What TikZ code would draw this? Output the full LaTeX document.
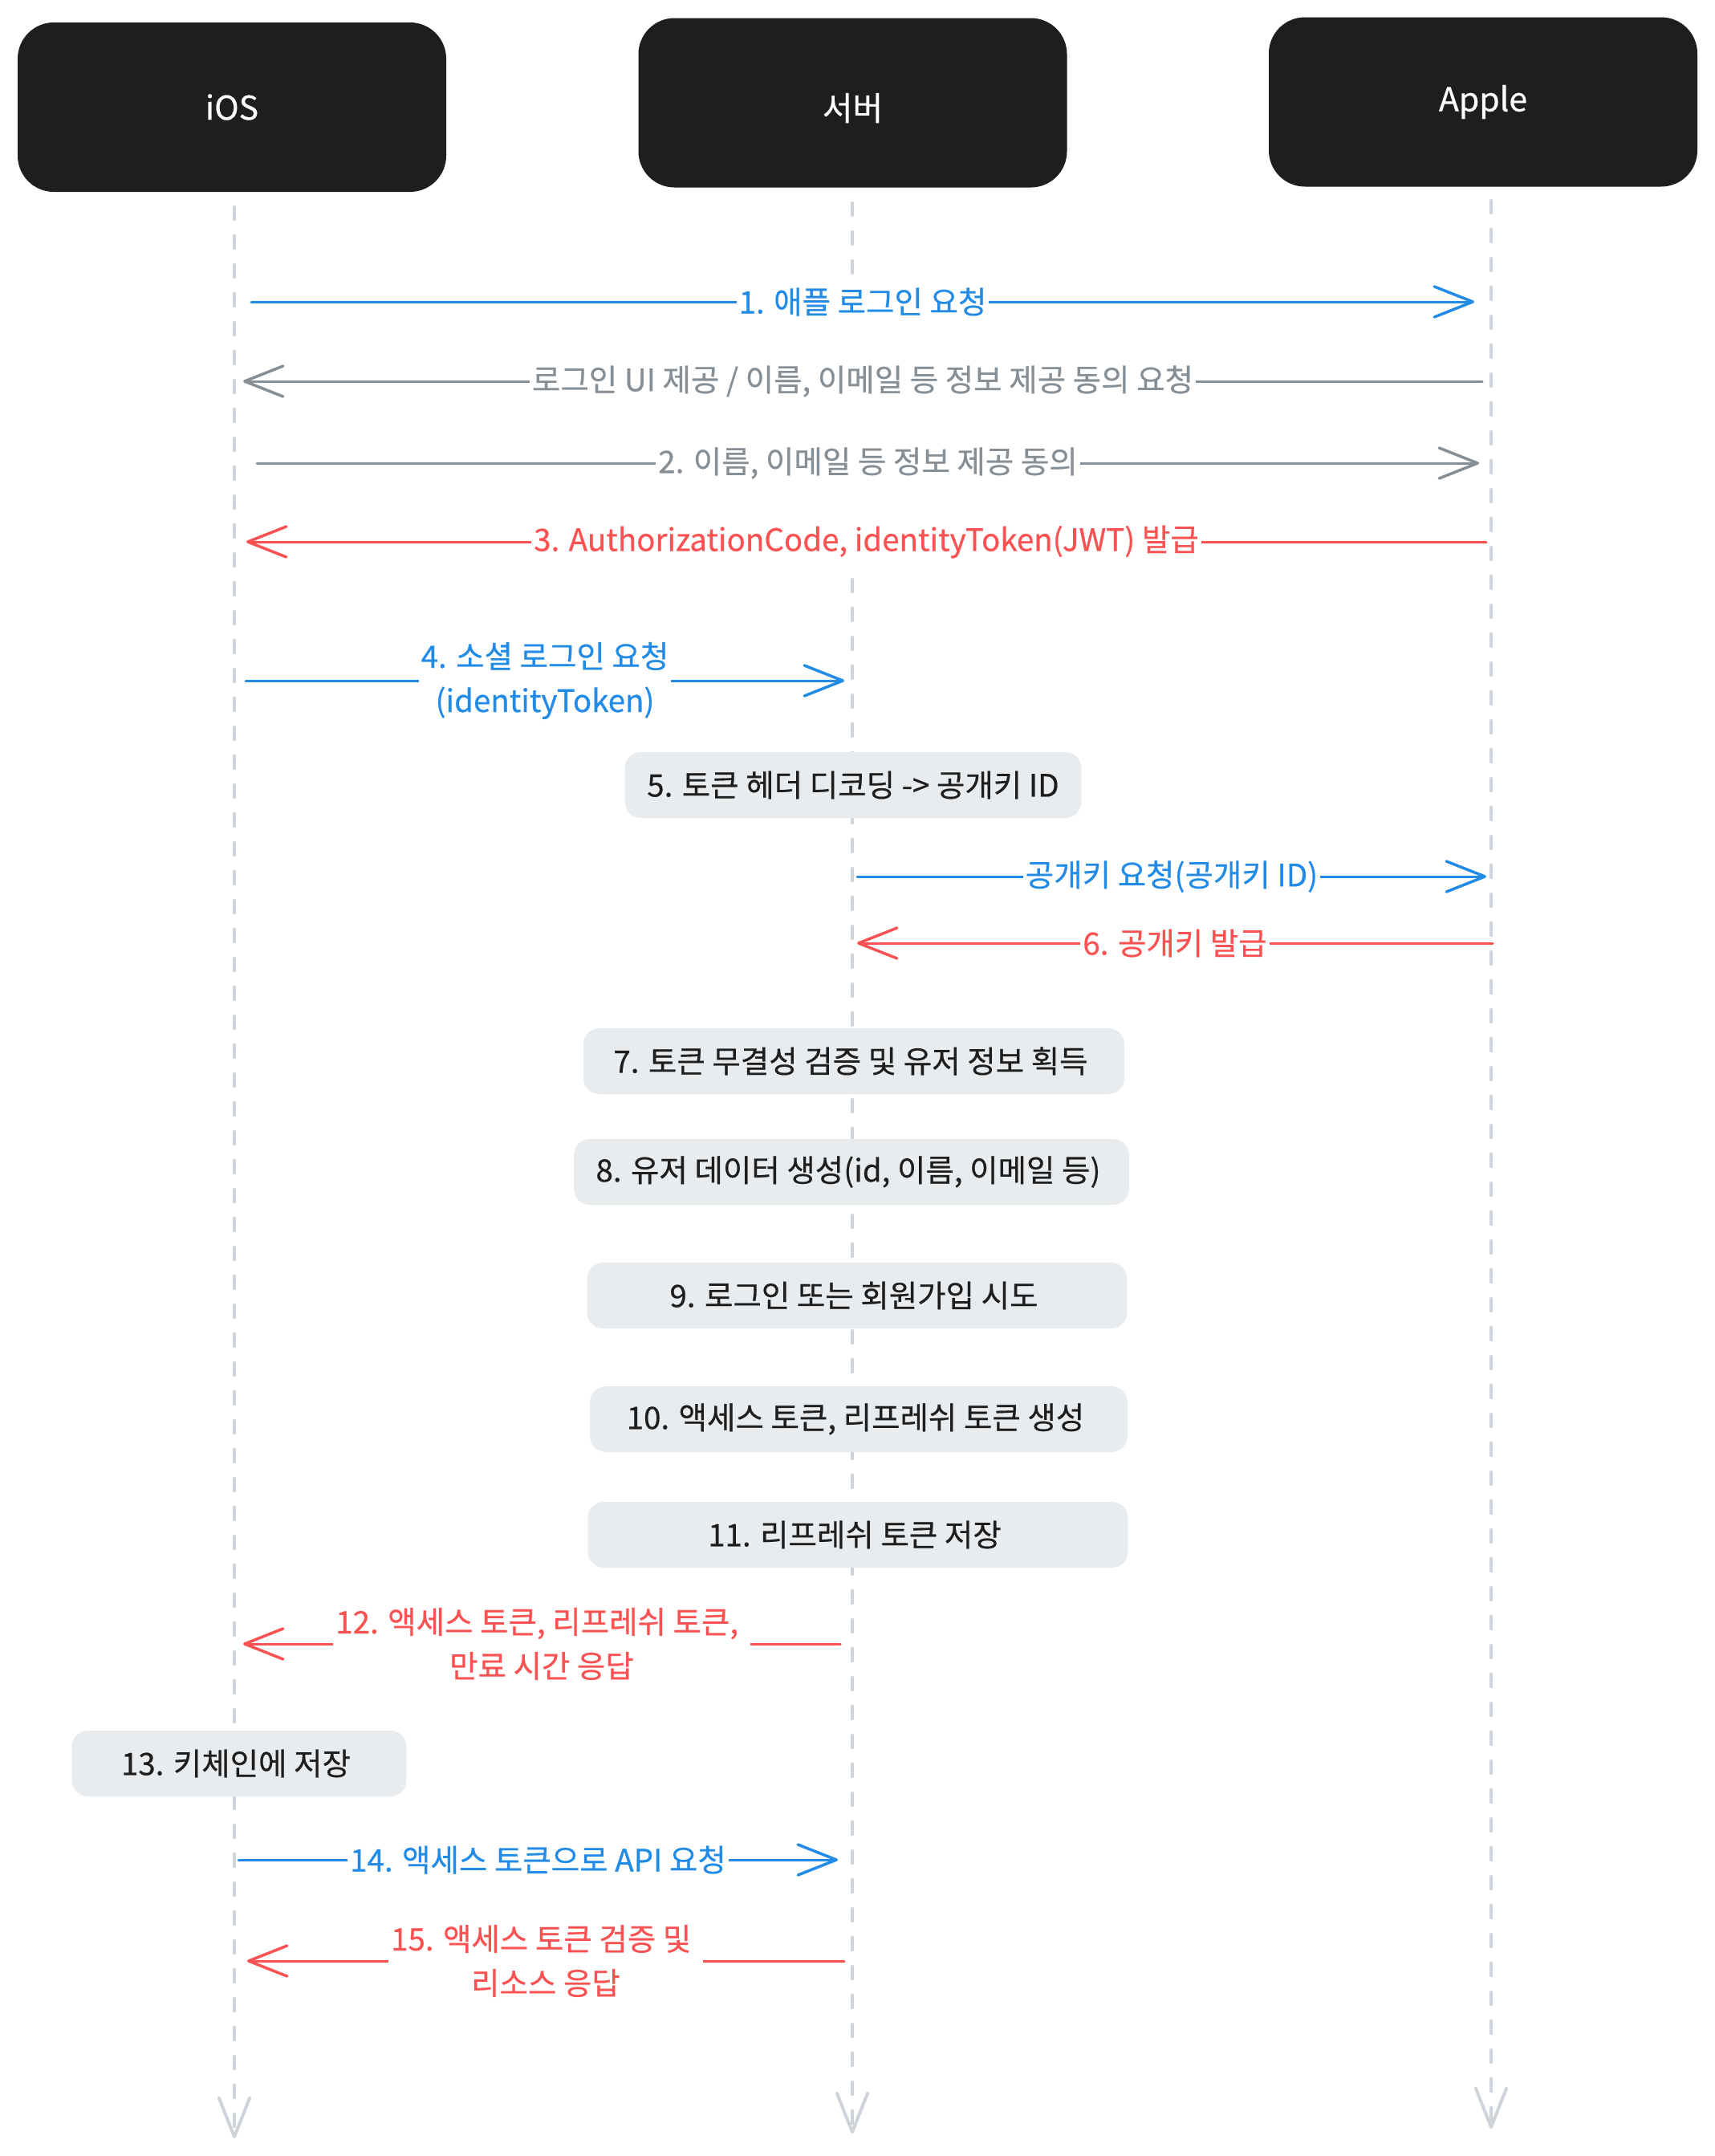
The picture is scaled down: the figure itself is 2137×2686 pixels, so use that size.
\documentclass[tikz,border=0pt]{standalone}
\usepackage{fontspec}
\setmainfont{Noto Sans CJK KR}[FakeBold=0.5]
\usetikzlibrary{arrows.meta}
\definecolor{cblue}{HTML}{228BE6}
\definecolor{cred}{HTML}{FA5252}
\definecolor{cgray}{HTML}{868E96}
\definecolor{cline}{HTML}{CED4DA}
\definecolor{cbox}{HTML}{E9ECEF}
\definecolor{cdark}{HTML}{1E1E1E}
\newcommand\fs{\fontsize{38.5pt}{55pt}\selectfont}
\newcommand\hfs{\fontsize{41pt}{50pt}\selectfont}
\begin{document}
\begin{tikzpicture}[x=1pt,y=-1pt,
  head/.style={fill=cdark, rounded corners=45pt, minimum width=534pt, minimum height=211pt, text=white, font=\hfs, inner sep=0pt},
  stepbox/.style={fill=cbox, rounded corners=20pt, minimum height=82pt, text=cdark, font=\fs, inner sep=0pt},
  lifedash/.style={cline, line width=4.5pt, line cap=round, dash pattern=on 15pt off 21pt},
  lifeline/.style={lifedash, -{Straight Barb[length=48pt,width=38pt,line width=4pt,round]}},
  msg/.style={line width=3pt, line cap=round, -{Straight Barb[length=48pt,width=38pt,line width=3.5pt,round]}},
  lbl/.style={fill=white, font=\fs, inner xsep=3pt, inner ysep=1pt, align=center}
]
\useasboundingbox (0,0) rectangle (2137,2686);

% heads
\node[head] (ios) at (289,133.5) {iOS};
\node[head] (srv) at (1062.5,128) {\raisebox{-22pt}[0pt][0pt]{서버}};
\node[head] (apl) at (1848,127) {Apple};

% lifelines
\coordinate (iosT) at (292,258);
\coordinate (iosB) at (292,2664);
\coordinate (srvT) at (1062,253);
\coordinate (srvM1) at (1062,346);
\coordinate (srvM2) at (1062,722);
\coordinate (srvB) at (1062,2658);
\coordinate (aplT) at (1858,250);
\coordinate (aplB) at (1858,2652);
\draw[lifeline] (iosT) -- (iosB);
\draw[lifedash] (srvT) -- (srvM1);
\draw[lifeline] (srvM2) -- (srvB);
\draw[lifeline] (aplT) -- (aplB);

% message end points
\coordinate (m1a) at (313,376);  \coordinate (m1b) at (1837,376);
\coordinate (mga) at (1847,475); \coordinate (mgb) at (303,475);
\coordinate (m2a) at (320,577);  \coordinate (m2b) at (1843,577);
\coordinate (m3a) at (1852,675); \coordinate (m3b) at (307,675);
\coordinate (m4a) at (306,848);  \coordinate (m4b) at (1052,848);
\coordinate (mka) at (1068,1092); \coordinate (mkb) at (1852,1092);
\coordinate (m6a) at (1860,1175); \coordinate (m6b) at (1068,1175);
\coordinate (m12a) at (1047,2048); \coordinate (m12b) at (303,2048);
\coordinate (m14a) at (297,2317); \coordinate (m14b) at (1044,2317);
\coordinate (m15a) at (1052,2443); \coordinate (m15b) at (308,2443);

% messages
\draw[msg, cblue] (m1a) -- node[lbl]{1. 애플 로그인 요청} (m1b);
\draw[msg, cgray] (mga) -- node[lbl]{로그인 UI 제공 / 이름, 이메일 등 정보 제공 동의 요청} (mgb);
\draw[msg, cgray] (m2a) -- node[lbl]{2. 이름, 이메일 등 정보 제공 동의} (m2b);
\draw[msg, cred] (m3a) -- node[lbl]{3. AuthorizationCode, identityToken(JWT) 발급} (m3b);
\draw[msg, cblue] (m4a) -- node[lbl]{4. 소셜 로그인 요청\\(identityToken)} (m4b);

\node[stepbox, minimum width=569pt] (s5) at (1063,978) {5. 토큰 헤더 디코딩 -> 공개키 ID};

\draw[msg, cblue] (mka) -- node[lbl]{공개키 요청(공개키 ID)} (mkb);
\draw[msg, cred] (m6a) -- node[lbl]{6. 공개키 발급} (m6b);

\node[stepbox, minimum width=674pt] (s7) at (1064,1322) {\hspace*{-8pt}7. 토큰 무결성 검증 및 유저 정보 획득};
\node[stepbox, minimum width=692pt] (s8) at (1061,1460) {\hspace*{-8pt}8. 유저 데이터 생성(id, 이름, 이메일 등)};
\node[stepbox, minimum width=673pt] (s9) at (1068,1614) {\hspace*{-8pt}9. 로그인 또는 회원가입 시도};
\node[stepbox, minimum width=670pt] (s10) at (1070,1768) {\hspace*{-8pt}10. 액세스 토큰, 리프레쉬 토큰 생성};
\node[stepbox, minimum width=673pt] (s11) at (1069,1912) {\hspace*{-8pt}11. 리프레쉬 토큰 저장};

\draw[msg, cred] (m12a) -- node[lbl]{12. 액세스 토큰, 리프레쉬 토큰,\kern0.3em\\만료 시간 응답} (m12b);

\node[stepbox, minimum width=417pt] (s13) at (298,2197) {\hspace*{-8pt}13. 키체인에 저장};

\draw[msg, cblue] (m14a) -- node[lbl]{14. 액세스 토큰으로 API 요청} (m14b);
\draw[msg, cred] (m15a) -- node[lbl]{15. 액세스 토큰 검증 및\kern0.3em\\리소스 응답} (m15b);
\end{tikzpicture}
\end{document}
